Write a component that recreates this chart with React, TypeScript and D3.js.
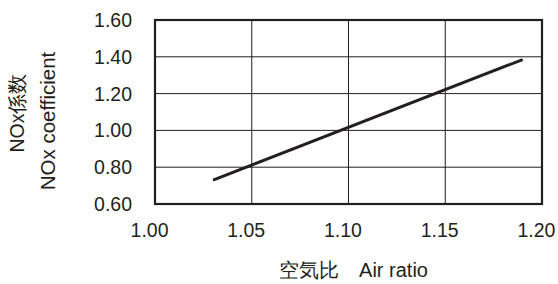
import React from 'react'
import * as d3 from 'd3'

const xTicks = [1.0, 1.05, 1.1, 1.15, 1.2]
const yTicks = [0.6, 0.8, 1.0, 1.2, 1.4, 1.6]
const airRatio = [1.03, 1.19]
const noxCoef = [0.73, 1.385]
const xTitle = '空気比　Air ratio'
const yTitleJa = 'NOx係数'
const yTitleEn = 'NOx coefficient'

const W = 558
const H = 284
const margin = { top: 20, right: 16, bottom: 80, left: 155 }

export default function App() {
  const innerW = W - margin.left - margin.right
  const innerH = H - margin.top - margin.bottom

  const x = d3.scaleLinear().domain([1.0, 1.2]).range([0, innerW])
  const y = d3.scaleLinear().domain([0.6, 1.6]).range([innerH, 0])

  const pts: [number, number][] = airRatio.map((a, i) => [a, noxCoef[i]])
  const line = d3.line<[number, number]>()
    .x((d) => x(d[0]))
    .y((d) => y(d[1]))

  const font = 'Liberation Sans, Arial, Helvetica, sans-serif'
  const ink = '#231f20'

  return (
    <svg width={W} height={H} style={{ position: 'absolute', left: 0, top: 0 }} fontFamily={font}>
      <g transform={`translate(${margin.left},${margin.top})`}>
        {xTicks.slice(1, -1).map((t) => (
          <line key={`gx${t}`} x1={x(t)} x2={x(t)} y1={0} y2={innerH} stroke={ink} strokeWidth={1} />
        ))}
        {yTicks.slice(1, -1).map((t) => (
          <line key={`gy${t}`} x1={0} x2={innerW} y1={y(t)} y2={y(t)} stroke={ink} strokeWidth={1} />
        ))}
        <rect x={0} y={0} width={innerW} height={innerH} fill="none" stroke={ink} strokeWidth={2.2} />
        <path d={line(pts) || ''} fill="none" stroke={ink} strokeWidth={3} />
        {yTicks.map((t) => (
          <text key={`ty${t}`} x={-23} y={y(t)} dy="0.36em" textAnchor="end" fontSize={19.5} fill={ink}>
            {d3.format('.2f')(t)}
          </text>
        ))}
        {xTicks.map((t) => (
          <text key={`tx${t}`} x={x(t) - 5.5} y={innerH + 33} textAnchor="middle" fontSize={19.5} fill={ink}>
            {d3.format('.2f')(t)}
          </text>
        ))}
        <text x={x(1.1) + 5} y={innerH + 73} textAnchor="middle" fontSize={20} fill={ink}>
          {xTitle}
        </text>
      </g>
      <text transform={`translate(24,113) rotate(-90)`} textAnchor="middle" fontSize={19.5} fill={ink}>
        {yTitleJa}
      </text>
      <text transform={`translate(55,121) rotate(-90)`} textAnchor="middle" fontSize={20.5} fill={ink}>
        {yTitleEn}
      </text>
    </svg>
  )
}
